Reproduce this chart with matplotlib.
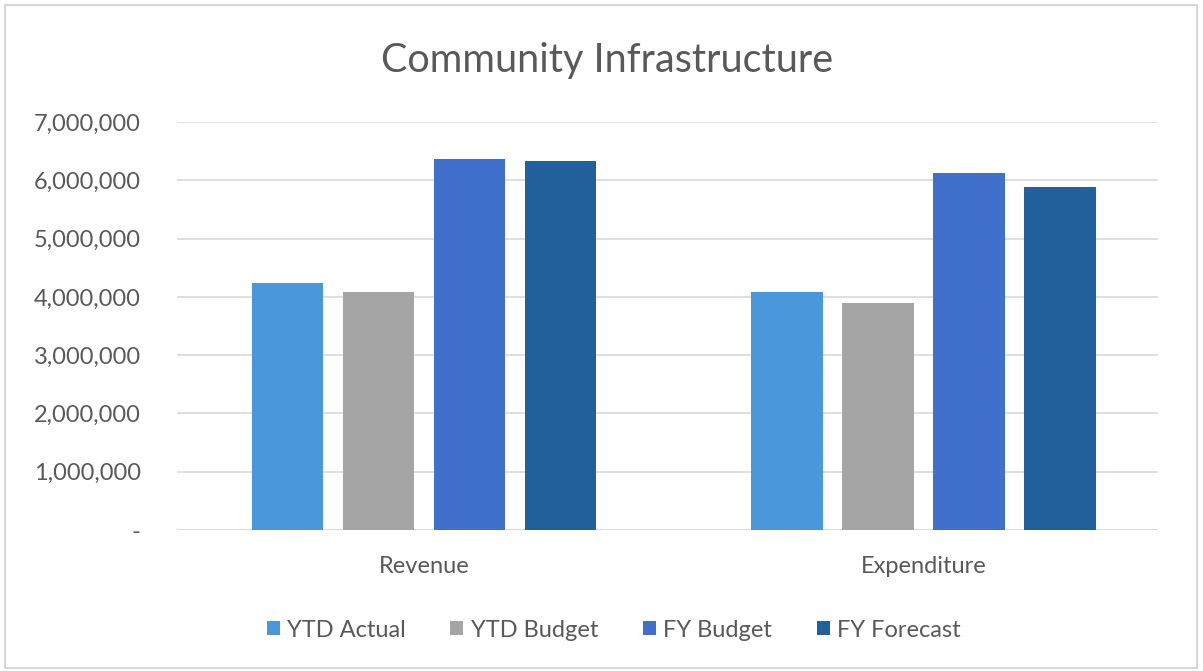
import numpy as np
import matplotlib.pyplot as plt
from matplotlib.patches import Rectangle
from matplotlib.ticker import FuncFormatter

plt.rcParams['font.family'] = ['Lato', 'DejaVu Sans']

categories = ["Revenue", "Expenditure"]
series_names = ["YTD Actual", "YTD Budget", "FY Budget", "FY Forecast"]
ytd_actual = [4240000, 4090000]
ytd_budget = [4090000, 3900000]
fy_budget = [6360000, 6130000]
fy_forecast = [6330000, 5890000]

series_values = [ytd_actual, ytd_budget, fy_budget, fy_forecast]
colors = ["#4a97dc", "#a5a5a5", "#4170cc", "#22609b"]

text_color = "#595959"
grid_color = "#d9d9d9"

fig = plt.figure(figsize=(12.03, 6.71), dpi=100)
ax = fig.add_axes([0.1471, 0.2101, 0.8155, 0.6081])

x = np.arange(len(categories))
bar_width = 0.143
step = 0.182

for i, (name, vals) in enumerate(zip(series_names, series_values)):
    offset = (i - 1.5) * step
    ax.bar(x + offset, vals, width=bar_width, color=colors[i], label=name, zorder=3)

ax.set_ylim(0, 7000000)
ax.set_xlim(-0.494, 1.469)
ax.set_yticks(np.arange(0, 7000001, 1000000))
ax.yaxis.set_major_formatter(FuncFormatter(lambda v, p: "-" if v == 0 else f"{v:,.0f}"))
ax.set_xticks(x)
ax.set_xticklabels(categories)

ax.grid(axis="y", color=grid_color, linewidth=1.2, zorder=0)
for side in ["top", "right", "left", "bottom"]:
    ax.spines[side].set_visible(False)
ax.axhline(0, color=grid_color, linewidth=1.2, zorder=1)

ax.tick_params(axis="both", length=0, labelsize=17, labelcolor=text_color)
ax.tick_params(axis="y", pad=26)
ax.tick_params(axis="x", pad=19)

fig.text(0.505, 0.91, "Community Infrastructure", ha="center", va="center",
         fontsize=28.5, color=text_color)

fig.legend(loc="center", bbox_to_anchor=(0.51, 0.061), ncol=4, frameon=False,
           fontsize=17, labelcolor=text_color, handlelength=0.55, handleheight=0.55,
           handletextpad=0.3, columnspacing=1.9)

# thin border round the chart area
fig.patches.append(Rectangle((0.004, 0.004), 0.991, 0.988, transform=fig.transFigure,
                             fill=False, edgecolor="#d0d0d0", linewidth=1.2))

fig.savefig("out.png", dpi=100, facecolor="white")
